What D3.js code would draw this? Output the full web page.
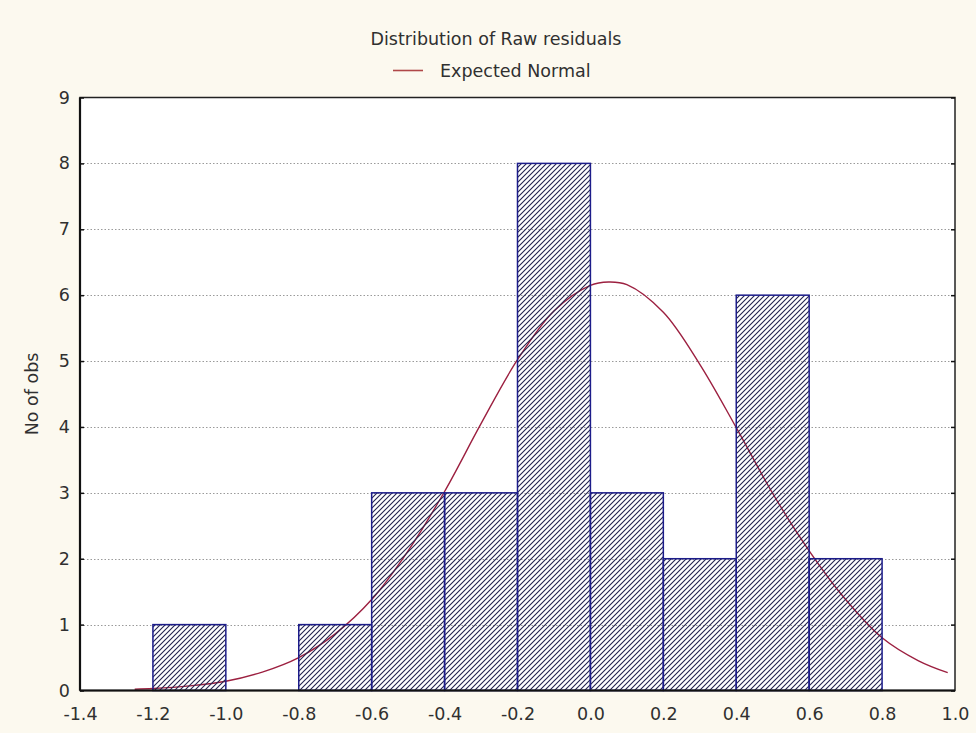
<!DOCTYPE html>
<html>
<head>
<meta charset="utf-8">
<script src="https://cdn.jsdelivr.net/npm/d3@7"></script>
<style>
  html, body { margin: 0; padding: 0; background: #fcf9ef; }
  svg { display: block; font-family: "DejaVu Sans", Verdana, sans-serif; }
</style>
</head>
<body>
<svg id="chart" width="976" height="733"></svg>
<script>
// Histogram bins of raw residuals (lower edge, upper edge, count)
const binStarts = [-1.2, -1.0, -0.8, -0.6, -0.4, -0.2, 0.0, 0.2, 0.4, 0.6];
const binEnds   = [-1.0, -0.8, -0.6, -0.4, -0.2, 0.0, 0.2, 0.4, 0.6, 0.8];
const counts    = [1, 0, 1, 3, 3, 8, 3, 2, 6, 2];

// Expected normal curve, sampled points (x, expected count)
const curveX = [-1.25, -1.2, -1.1, -1.0, -0.9, -0.8, -0.7, -0.6, -0.5, -0.4, -0.3, -0.2, -0.1, 0.0, 0.05, 0.1, 0.2, 0.3, 0.4, 0.5, 0.6, 0.7, 0.8, 0.9, 0.98];
const curveY = [0.02, 0.03, 0.07, 0.14, 0.28, 0.5, 0.86, 1.38, 2.12, 3.02, 4.05, 5.02, 5.76, 6.15, 6.2, 6.16, 5.74, 4.95, 3.99, 2.99, 2.12, 1.38, 0.8, 0.45, 0.27];

const xTicks = [-1.4, -1.2, -1.0, -0.8, -0.6, -0.4, -0.2, 0.0, 0.2, 0.4, 0.6, 0.8, 1.0];
const yTicks = [0, 1, 2, 3, 4, 5, 6, 7, 8, 9];

const titleText = "Distribution of Raw residuals";
const legendText = "Expected Normal";
const yLabel = "No of obs";

const svg = d3.select("#chart");
const plotL = 80, plotR = 955, plotT = 97.5, plotB = 690.5;
const textColor = "#303030";
const fontSize = 17.5;

const x = d3.scaleLinear().domain([-1.4, 1.0]).range([plotL, plotR]);
const y = d3.scaleLinear().domain([0, 9]).range([plotB, plotT]);

// Hatch pattern for the bars
const defs = svg.append("defs");
const pat = defs.append("pattern")
  .attr("id", "hatch")
  .attr("patternUnits", "userSpaceOnUse")
  .attr("width", 5).attr("height", 5);
pat.append("path")
  .attr("d", "M-1,1 l2,-2 M0,5 l5,-5 M4,6 l2,-2")
  .attr("stroke", "#22224e")
  .attr("stroke-width", 1.1);

// Plot area
svg.append("rect")
  .attr("x", plotL).attr("y", plotT)
  .attr("width", plotR - plotL).attr("height", plotB - plotT)
  .attr("fill", "#ffffff");

// Dotted horizontal grid
svg.append("g")
  .selectAll("line")
  .data(yTicks.filter(d => d > 0 && d < 9))
  .join("line")
  .attr("x1", plotL).attr("x2", plotR)
  .attr("y1", d => Math.round(y(d)) + 0.5).attr("y2", d => Math.round(y(d)) + 0.5)
  .attr("stroke", "#9a9a9a")
  .attr("stroke-width", 1)
  .attr("stroke-dasharray", "1.5,2");

// Expected normal curve
const line = d3.line()
  .x((d, i) => x(curveX[i]))
  .y(d => y(d))
  .curve(d3.curveCatmullRom);
svg.append("path")
  .datum(curveY)
  .attr("d", line)
  .attr("fill", "none")
  .attr("stroke", "#9c2040")
  .attr("stroke-width", 1.4);

// Histogram bars
svg.append("g")
  .selectAll("rect")
  .data(counts.map((c, i) => ({ x0: binStarts[i], x1: binEnds[i], c })).filter(d => d.c > 0))
  .join("rect")
  .attr("x", d => x(d.x0))
  .attr("y", d => y(d.c))
  .attr("width", d => x(d.x1) - x(d.x0))
  .attr("height", d => y(0) - y(d.c))
  .attr("fill", "url(#hatch)")
  .attr("stroke", "#1c1c8a")
  .attr("stroke-width", 1.5);

// Frame
svg.append("rect")
  .attr("x", plotL).attr("y", plotT)
  .attr("width", plotR - plotL).attr("height", plotB - plotT)
  .attr("fill", "none")
  .attr("stroke", "#222")
  .attr("stroke-width", 1.5);
svg.append("line")
  .attr("x1", plotL).attr("x2", plotL).attr("y1", plotT).attr("y2", plotB)
  .attr("stroke", "#111").attr("stroke-width", 2.2);
svg.append("line")
  .attr("x1", plotL).attr("x2", plotR).attr("y1", plotB).attr("y2", plotB)
  .attr("stroke", "#111").attr("stroke-width", 2.2);

// Y axis (ticks pointing inward) and mirrored ticks on the right side
const yAxis = d3.axisLeft(y).tickValues(yTicks).tickFormat(d3.format("d")).tickSizeInner(-4).tickSizeOuter(0).tickPadding(10);
const gy = svg.append("g").attr("transform", `translate(${plotL},0)`).call(yAxis);
gy.select(".domain").remove();
gy.selectAll(".tick line").attr("stroke", "#111").attr("stroke-width", 1.5);
gy.selectAll(".tick text").attr("font-size", fontSize).attr("fill", textColor)
  .attr("font-family", "DejaVu Sans, sans-serif");

const gyR = svg.append("g").attr("transform", `translate(${plotR},0)`)
  .call(d3.axisRight(y).tickValues(yTicks).tickSizeInner(-4).tickSizeOuter(0).tickFormat(""));
gyR.select(".domain").remove();
gyR.selectAll(".tick line").attr("stroke", "#111").attr("stroke-width", 1.5);

// X axis (plain hyphen for negatives)
const fmt1 = d3.format(".1f");
const xAxis = d3.axisBottom(x).tickValues(xTicks).tickFormat(d => fmt1(d).replace("\u2212", "-")).tickSize(0).tickPadding(17);
const gx = svg.append("g").attr("transform", `translate(0,${plotB})`).call(xAxis);
gx.select(".domain").remove();
gx.selectAll(".tick text").attr("font-size", fontSize).attr("fill", textColor)
  .attr("font-family", "DejaVu Sans, sans-serif");

// Axis title
svg.append("text")
  .attr("transform", `translate(33,${(plotT + plotB) / 2}) rotate(-90)`)
  .attr("text-anchor", "middle")
  .attr("dominant-baseline", "middle")
  .attr("font-size", fontSize)
  .attr("fill", textColor)
  .text(yLabel);

// Chart title
svg.append("text")
  .attr("x", 496).attr("y", 45)
  .attr("text-anchor", "middle")
  .attr("font-size", fontSize)
  .attr("fill", textColor)
  .text(titleText);

// Legend
svg.append("line")
  .attr("x1", 393).attr("x2", 423).attr("y1", 70.5).attr("y2", 70.5)
  .attr("stroke", "#b04848").attr("stroke-width", 1.6);
svg.append("text")
  .attr("x", 440).attr("y", 77)
  .attr("font-size", fontSize)
  .attr("fill", textColor)
  .text(legendText);
</script>
</body>
</html>
